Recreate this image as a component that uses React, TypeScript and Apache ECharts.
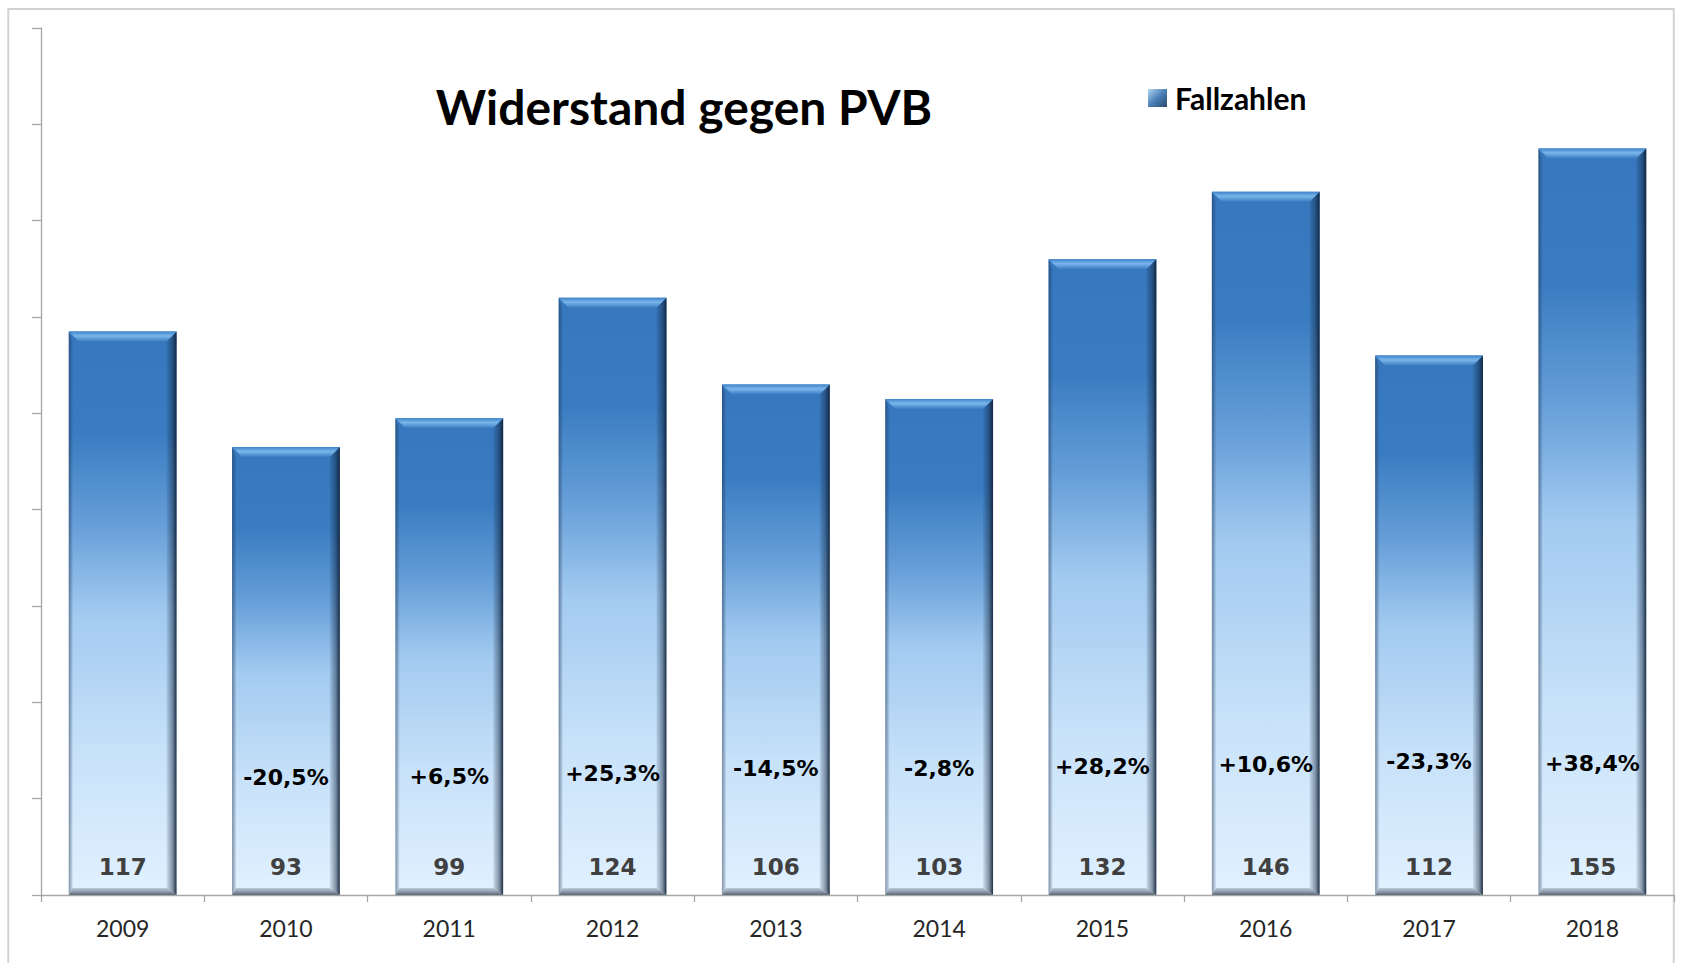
import React, { useEffect, useRef } from "react";
import * as echarts from "echarts";

const categories = ["2009", "2010", "2011", "2012", "2013", "2014", "2015", "2016", "2017", "2018"];
const cases = [117, 93, 99, 124, 106, 103, 132, 146, 112, 155];
const changeLabels = ["", "-20,5%", "+6,5%", "+25,3%", "-14,5%", "-2,8%", "+28,2%", "+10,6%", "-23,3%", "+38,4%"];
// vertical level (in axis units) at which each change label sits
const changeLabelLevel = [0, 24.3, 24.5, 25.3, 26.2, 26.2, 26.6, 27.0, 27.8, 27.3];
const yMin = 0;
const yMax = 180;
const yInterval = 20;

const titleText = "Widerstand gegen PVB";
const seriesName = "Fallzahlen";

const lg = (x2: number, y2: number, stops: [number, string][]) =>
  new echarts.graphic.LinearGradient(0, 0, x2, y2, stops.map(([offset, color]) => ({ offset, color })));

export default function App() {
  const ref = useRef<HTMLDivElement>(null);

  useEffect(() => {
    if (!ref.current) return;
    const chart = echarts.init(ref.current, undefined, { renderer: "svg" });

    const renderItem = (params: any, api: any) => {
      const i = api.value(0);
      const v = api.value(1);
      const lvl = api.value(2);
      const topPt = api.coord([i, v]);
      const basePt = api.coord([i, 0]);
      const w = api.size([1, 0])[0] * 0.66;
      const cx = topPt[0];
      const x0 = cx - w / 2;
      const x1 = cx + w / 2;
      const y0 = topPt[1];
      const y1 = basePt[1];
      const b = 10;
      const bl = 4;
      const bb = 7;
      const children: any[] = [
        {
          type: "rect",
          shape: { x: x0, y: y0, width: w, height: y1 - y0 },
          style: {
            fill: lg(0, 1, [
              [0, "#3677bd"],
              [0.18, "#3a7cc1"],
              [0.34, "#659ed8"],
              [0.5, "#a2caf0"],
              [0.75, "#c8e2f9"],
              [1, "#e1f1ff"],
            ]),
          },
        },
        {
          type: "polygon",
          shape: { points: [[x0, y0], [x0 + bl, y0 + b], [x0 + bl, y1 - bb], [x0, y1]] },
          style: { fill: lg(1, 0, [[0, "rgba(30,50,80,0.5)"], [1, "rgba(30,50,80,0.08)"]]) },
        },
        {
          type: "polygon",
          shape: { points: [[x1, y0], [x1, y1], [x1 - b, y1 - bb], [x1 - b, y0 + b]] },
          style: { fill: lg(1, 0, [[0, "rgba(15,32,55,0.08)"], [0.6, "rgba(15,32,55,0.45)"], [1, "rgba(15,32,55,0.92)"]]) },
        },
        {
          type: "polygon",
          shape: { points: [[x0, y1], [x1, y1], [x1 - b, y1 - bb], [x0 + bl, y1 - bb]] },
          style: { fill: lg(0, 1, [[0, "rgba(80,90,105,0.25)"], [1, "rgba(60,70,85,0.8)"]]) },
        },
        {
          type: "polygon",
          shape: { points: [[x0, y0], [x1, y0], [x1 - b, y0 + b], [x0 + b, y0 + b]] },
          style: { fill: lg(0, 1, [[0, "#3f84c9"], [0.45, "#7ab6ec"], [1, "#3b7cc1"]]) },
        },
        {
          type: "text",
          x: cx,
          y: y1 - 28,
          style: {
            text: String(v),
            fill: "#404040",
            fontSize: 23,
            fontWeight: "bold",
            fontFamily: "DejaVu Sans",
            align: "center",
            verticalAlign: "middle",
          },
        },
      ];
      const lbl = changeLabels[i];
      if (lbl) {
        const lp = api.coord([i, lvl]);
        children.push({
          type: "text",
          x: cx,
          y: lp[1],
          style: {
            text: lbl,
            fill: "#000000",
            fontSize: 22,
            fontWeight: "bold",
            fontFamily: "DejaVu Sans",
            align: "center",
            verticalAlign: "middle",
          },
        });
      }
      return { type: "group", children };
    };

    const legendGrad = lg(1, 1, [[0, "#b5d6f3"], [0.5, "#4a80b8"], [1, "#2a4a6c"]]);

    chart.setOption({
      animation: false,
      backgroundColor: "#ffffff",
      grid: { left: 41, right: 12, top: 28, bottom: 68, containLabel: false },
      graphic: [
        {
          type: "rect",
          z: -10,
          shape: { x: 8.3, y: 9, width: 1665.5, height: 990 },
          style: { fill: "none", stroke: "#d2d2d2", lineWidth: 2 },
        },
        {
          type: "text",
          x: 684,
          y: 106,
          style: {
            text: titleText,
            fill: "#000000",
            fontSize: 48,
            fontWeight: "bold",
            fontFamily: "Lato",
            align: "center",
            verticalAlign: "middle",
          },
        },
      ],
      legend: {
        data: [{ name: seriesName, icon: "rect", itemStyle: { color: legendGrad } }],
        left: 1148,
        top: 83,
        padding: 0,
        itemWidth: 19,
        itemHeight: 18,
        textStyle: {
          fontFamily: "Lato",
          fontWeight: "bold",
          fontSize: 30,
          color: "#000000",
          lineHeight: 30,
          padding: [0, 0, 0, 3],
        },
      },
      xAxis: {
        type: "category",
        data: categories,
        boundaryGap: true,
        axisLine: { show: true, lineStyle: { color: "#a6a6a6", width: 1.3 } },
        axisTick: { show: true, length: 7, lineStyle: { color: "#a6a6a6", width: 1.3 } },
        axisLabel: {
          margin: 21,
          fontFamily: "Lato",
          fontSize: 23,
          color: "#262626",
          lineHeight: 23,
        },
        splitLine: { show: false },
      },
      yAxis: {
        type: "value",
        min: yMin,
        max: yMax,
        interval: yInterval,
        axisLine: { show: true, lineStyle: { color: "#a6a6a6", width: 1.3 } },
        axisTick: { show: true, length: 9, lineStyle: { color: "#a6a6a6", width: 1.3 } },
        axisLabel: { show: false },
        splitLine: { show: false },
      },
      series: [
        {
          type: "custom",
          name: seriesName,
          renderItem,
          itemStyle: { color: legendGrad },
          encode: { x: 0, y: 1 },
          data: cases.map((v, i) => [i, v, changeLabelLevel[i]]),
        },
      ],
    });

    return () => chart.dispose();
  }, []);

  return (
    <div
      ref={ref}
      style={{ position: "absolute", left: 0, top: 0, width: 1686, height: 963 }}
    />
  );
}
